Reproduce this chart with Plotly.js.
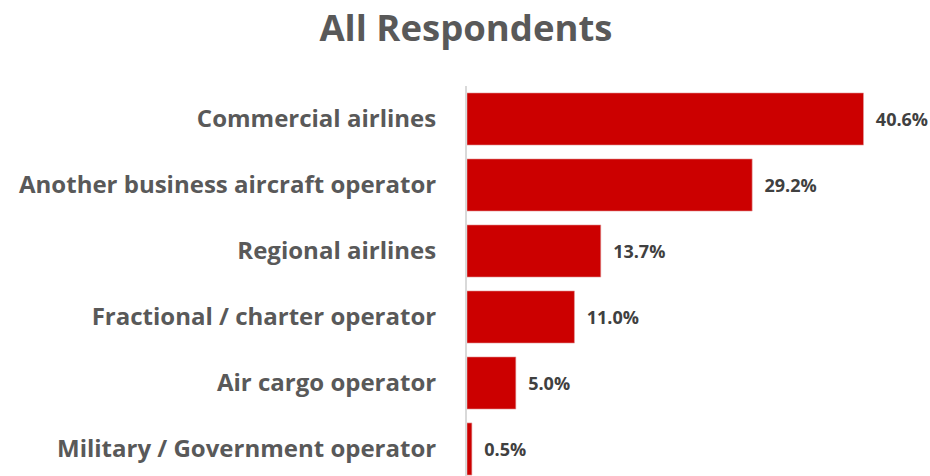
<!DOCTYPE html>
<html>
<head>
<meta charset="utf-8">
<script src="https://cdn.plot.ly/plotly-3.0.1.min.js"></script>
<style>html,body{margin:0;padding:0;background:#fff;}#chart{width:930px;height:476px;}</style>
</head>
<body>
<div id="chart"></div>
<script>
const categories = [
  "Commercial airlines",
  "Another business aircraft operator",
  "Regional airlines",
  "Fractional / charter operator",
  "Air cargo operator",
  "Military / Government operator"
];
const percentages = [40.6, 29.2, 13.7, 11.0, 5.0, 0.5];
const chartTitle = "All Respondents";

const trace = {
  type: "bar",
  orientation: "h",
  y: categories,
  x: percentages,
  marker: {color: "#cc0000", line: {color: "#e3a0a0", width: 0.6}},
  width: 0.79,
  texttemplate: "\u00a0\u00a0%{x:.1f}%",
  textposition: "outside",
  constraintext: "none",
  cliponaxis: false,
  textfont: {family: "'Open Sans', sans-serif", size: 18, color: "#404040", weight: "bold"},
  hoverinfo: "none"
};

const layout = {
  width: 930,
  height: 476,
  margin: {l: 467, r: 4, t: 86, b: 0},
  paper_bgcolor: "#ffffff",
  plot_bgcolor: "#ffffff",
  showlegend: false,
  title: {
    text: "<b>" + chartTitle + "</b>",
    x: 0.501, xanchor: "center",
    y: 0.94, yanchor: "middle",
    font: {family: "'Open Sans', sans-serif", size: 36.5, color: "#595959"}
  },
  xaxis: {
    range: [0, 47],
    showticklabels: false,
    showgrid: false,
    zeroline: false,
    showline: false,
    ticks: ""
  },
  yaxis: {
    type: "category",
    range: [5.409, -0.5],
    autorange: false,
    showgrid: false,
    zeroline: false,
    showline: true,
    linecolor: "#d9d9d9",
    linewidth: 2,
    ticks: "",
    ticklabelstandoff: 24,
    tickfont: {family: "'Open Sans', sans-serif", size: 24, color: "#595959", weight: "bold"}
  }
};

Plotly.newPlot("chart", [trace], layout, {displayModeBar: false, staticPlot: true});
</script>
</body>
</html>
